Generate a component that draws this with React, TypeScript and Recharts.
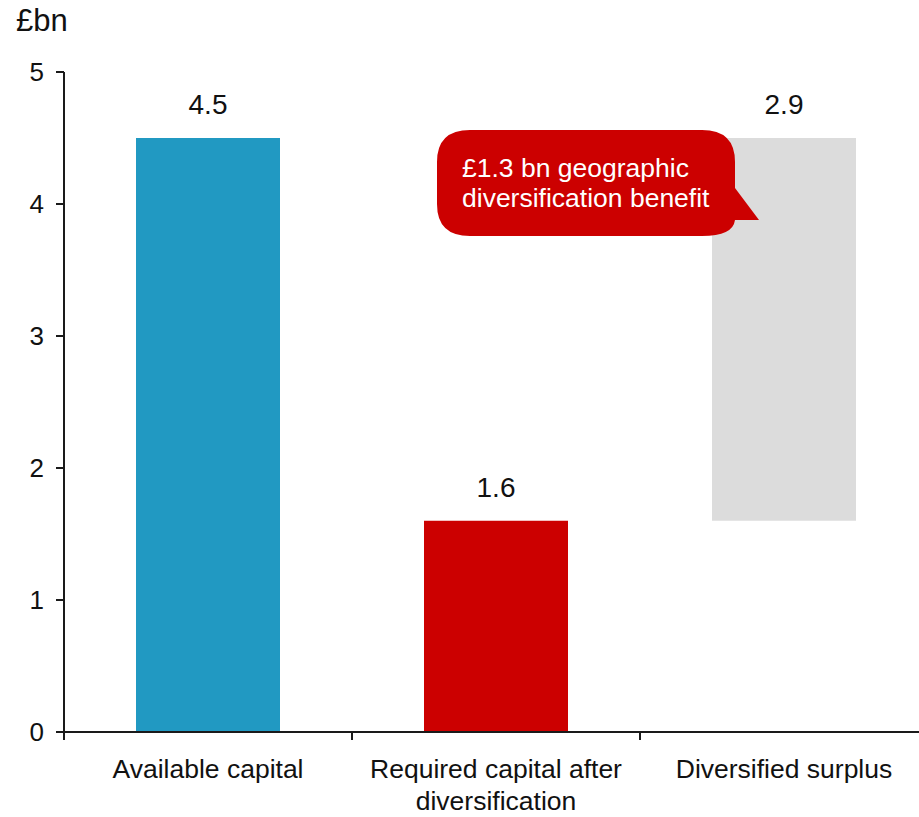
import React from 'react'
import { ComposedChart, Bar, XAxis, YAxis, Cell, LabelList } from 'recharts'

const categories = ['Available capital', 'Required capital after\ndiversification', 'Diversified surplus']
const barLow = [0, 0, 1.6]
const barHigh = [4.5, 1.6, 4.5]
const barLabels = ['4.5', '1.6', '2.9']
const yTicks = [0, 1, 2, 3, 4, 5]
const unitLabel = '£bn'
const calloutLines = ['£1.3 bn geographic', 'diversification benefit']

const COLORS = ['#2199c2', '#cc0000', '#dcdcdc']
const FONT = '"Liberation Sans", Arial, sans-serif'
const AXIS = '#1a1a1a'

const data = categories.map((name, i) => ({
  name,
  range: [barLow[i], barHigh[i]],
  label: barLabels[i],
}))

function CategoryTick(props: any) {
  const { x, y, payload, index, visibleTicksCount } = props
  const half = payload.offset ?? 144
  const lines = String(payload.value).split('\n')
  return (
    <g>
      <line x1={x - half} x2={x - half} y1={y - 8} y2={y} stroke={AXIS} strokeWidth={2} />
      {index === visibleTicksCount - 1 && (
        <line x1={x + half} x2={x + half} y1={y - 8} y2={y} stroke={AXIS} strokeWidth={2} />
      )}
      <text x={x} y={y + 38} textAnchor="middle" fontFamily={FONT} fontSize={26.5} fill="#111">
        {lines.map((l, i) => (
          <tspan key={i} x={x} dy={i === 0 ? 0 : 32}>
            {l}
          </tspan>
        ))}
      </text>
    </g>
  )
}

export default function App() {
  return (
    <div style={{ position: 'absolute', left: 0, top: 0, width: 919, height: 817, overflow: 'hidden', background: '#fff' }}>
      <div style={{ position: 'absolute', left: 16, top: 3, fontFamily: FONT, fontSize: 31, color: '#111' }}>{unitLabel}</div>
      <ComposedChart width={940} height={817} data={data} margin={{ top: 72, right: 12, left: 0, bottom: 0 }} barCategoryGap="25%">
        <XAxis
          dataKey="name"
          height={85}
          interval={0}
          tickLine={false}
          axisLine={{ stroke: AXIS, strokeWidth: 2 }}
          tick={<CategoryTick />}
        />
        <YAxis
          width={64}
          domain={[0, 5]}
          ticks={yTicks}
          tickSize={8}
          tickMargin={12}
          axisLine={{ stroke: AXIS, strokeWidth: 2 }}
          tickLine={{ stroke: AXIS, strokeWidth: 2 }}
          tick={{ fontFamily: FONT, fontSize: 26, fill: '#111' }}
        />
        <Bar dataKey="range" isAnimationActive={false}>
          {data.map((d, i) => (
            <Cell key={i} fill={COLORS[i]} />
          ))}
          <LabelList dataKey="label" position="top" offset={24} fontFamily={FONT} fontSize={28} fill="#111" />
        </Bar>
      </ComposedChart>
      <svg width={919} height={817} style={{ position: 'absolute', left: 0, top: 0, pointerEvents: 'none' }}>
        <path
          d="M 470,130 H 702 Q 735,130 735,162 V 188 L 759,220 L 735,220 Q 733,236 702,236 H 470 Q 437,236 437,204 V 162 Q 437,130 470,130 Z"
          fill="#cc0000"
        />
        <text x={462} y={177} fontFamily={FONT} fontSize={26.5} fill="#fff">
          <tspan x={462}>{calloutLines[0]}</tspan>
          <tspan x={462} dy={30}>{calloutLines[1]}</tspan>
        </text>
      </svg>
    </div>
  )
}
